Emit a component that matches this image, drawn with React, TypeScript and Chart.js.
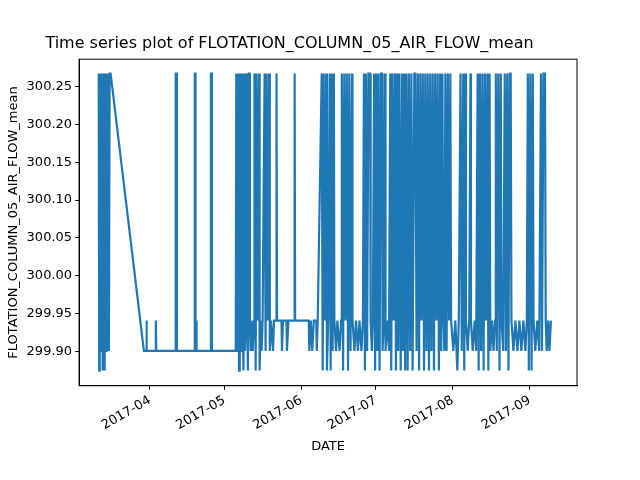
import React, { useEffect, useRef } from 'react';
import { Chart, registerables } from 'chart.js';

Chart.register(...registerables);

// x = days since 2017-03-01, y = mean air flow
const H = 300.267;
const M = 299.941;
const L = 299.901;
const B = 299.875;

const marchApril: [number, number][] = [
  [10.4, H], [10.6, B], [10.8, H], [11.0, M], [11.2, H], [11.5, L], [11.7, H], [12.0, B], [12.3, H],
  [12.6, M], [12.8, B], [13.1, H], [13.4, L], [13.6, H], [13.9, M], [14.2, H], [14.5, L], [14.8, H],
  [15.2, H], [28.6, L], [29.5, L], [29.6, M], [29.8, L], [33.3, L], [33.4, M], [33.6, L], [41.3, L],
  [41.4, H], [41.8, H], [41.9, L], [49.0, L], [49.1, H], [49.3, H], [49.4, L], [49.6, M], [49.8, L],
  [55.5, L], [55.6, H], [55.9, H], [56.0, L], [65.4, L],
];

const mayJune: [number, number][] = [
  [65.6, M], [65.8, H], [66.1, L], [66.4, M], [66.6, H], [66.9, B], [67.2, M], [67.5, H], [67.8, L],
  [68.1, H], [68.4, M], [68.7, B], [69.0, H], [69.3, L], [69.6, M], [69.9, H], [70.2, M], [70.5, B],
  [70.8, H], [71.1, H], [71.3, M], [71.6, L], [72.0, M], [72.4, L], [73.0, M], [73.1, H], [73.6, B],
  [74.0, H], [74.4, M], [75.0, H], [75.2, B], [75.6, M], [76.0, L], [76.4, M], [77.2, H], [77.6, L],
  [78.0, H], [78.4, M], [79.0, H], [79.3, L], [79.8, M], [80.6, L], [81.0, M], [81.8, M], [82.0, H],
  [82.2, M], [84.0, M], [84.2, L], [84.6, M], [86.0, M], [86.2, L], [86.8, M], [89.2, M], [89.3, H],
  [89.5, M], [95.0, M], [95.2, L], [95.8, M], [96.4, L], [97.0, M], [98.0, M], [98.2, L], [98.6, M],
  [100.2, H], [100.6, B], [101.0, H], [101.4, M], [102.0, H], [102.3, B], [102.8, M], [103.4, H],
  [103.8, B], [104.2, H], [104.6, L], [105.1, H], [105.3, M], [106.0, L], [106.5, M], [107.4, L],
  [108.0, M], [108.3, H], [108.8, B], [109.3, H], [109.8, M], [110.3, H], [110.8, B], [111.3, H],
  [111.8, L], [112.4, H], [112.6, M], [113.4, L], [114.0, M], [114.8, L], [115.4, M], [116.2, L],
  [116.8, M], [117.2, H], [117.6, B], [118.0, H], [118.5, L], [119.0, H], [119.7, H], [119.9, M],
  [120.4, L], [120.8, M], [121.3, H], [121.7, B], [122.1, H], [122.6, L], [123.0, H], [123.5, B],
  [124.0, H], [124.5, H], [124.7, L],
];

const julySeptember: [number, number][] = [
  [125.2, M], [125.7, H], [125.9, L], [126.6, M], [127.3, L], [127.8, H], [128.2, B], [128.7, H],
  [129.2, M], [129.7, H], [130.1, B], [130.6, H], [131.0, L], [131.5, H], [132.0, B], [132.6, H],
  [132.9, L], [133.4, H], [133.8, B], [134.3, H], [134.8, B], [135.3, H], [135.8, L], [136.3, H],
  [136.8, B], [137.5, H], [137.9, H], [138.4, L], [138.9, H], [139.4, B], [139.9, H], [140.4, M],
  [140.9, H], [141.4, B], [141.9, H], [142.4, L], [142.9, H], [143.4, B], [143.9, H], [144.4, L],
  [144.9, H], [145.4, B], [145.9, H], [146.4, M], [146.9, H], [147.4, B], [147.9, H], [148.3, L],
  [148.8, H], [149.2, M], [149.6, L], [150.0, H], [150.5, L], [151.0, H], [151.5, M], [152.0, H],
  [152.3, M], [153.2, L], [154.0, M], [154.8, B], [155.4, M], [156.1, H], [156.6, L], [157.2, H],
  [157.6, B], [158.1, H], [158.3, M], [159.0, L], [159.6, M], [160.1, H], [160.3, M], [161.0, L],
  [161.8, M], [162.4, L], [163.0, H], [163.4, B], [163.9, H], [164.4, L], [164.9, H], [165.4, B],
  [165.9, H], [166.4, M], [166.9, H], [167.3, B], [167.8, H], [168.1, L], [168.8, M], [169.4, L],
  [170.0, M], [170.3, H], [170.7, L], [171.3, H], [171.8, B], [172.3, H], [172.6, M], [173.3, L],
  [173.9, H], [174.4, L], [174.9, H], [175.4, B], [175.9, H], [176.3, H], [176.6, M], [177.4, L],
  [178.2, M], [179.0, L], [179.8, M], [180.6, L], [181.4, M], [182.2, L], [182.8, M], [183.2, H],
  [183.6, B], [184.2, H], [184.7, B], [185.2, H], [185.5, M], [186.2, L], [187.0, M], [187.8, L],
  [188.5, H], [188.9, L], [189.5, H], [190.1, H], [190.4, M], [190.8, L], [191.4, M], [191.9, L],
  [192.5, M],
];

const monthTicks = [31, 61, 92, 122, 153, 184];
const monthLabels = ['2017-04', '2017-05', '2017-06', '2017-07', '2017-08', '2017-09'];
const yTicks = [299.9, 299.95, 300.0, 300.05, 300.1, 300.15, 300.2, 300.25];

const frame = {
  id: 'frame',
  afterDraw(chart: Chart) {
    const { ctx, chartArea } = chart;
    ctx.save();
    ctx.strokeStyle = '#000';
    ctx.lineWidth = 1;
    ctx.strokeRect(chartArea.left, chartArea.top, chartArea.right - chartArea.left, chartArea.bottom - chartArea.top);
    ctx.restore();
  },
};

const App: React.FC = () => {
  const chartRef = useRef<HTMLCanvasElement>(null);
  const chartInstance = useRef<Chart | null>(null);

  useEffect(() => {
    document.body.style.margin = '0';
    if (!chartRef.current) return;
    if (chartInstance.current) chartInstance.current.destroy();
    const ctx = chartRef.current.getContext('2d');
    if (!ctx) return;
    const points = [...marchApril, ...mayJune, ...julySeptember].map(([x, y]) => ({ x, y }));
    const font = { family: 'DejaVu Sans', size: 13 };
    chartInstance.current = new Chart(ctx, {
      type: 'line',
      data: {
        datasets: [
          {
            data: points,
            borderColor: '#1f77b4',
            borderWidth: 2.2,
            pointRadius: 0,
            tension: 0,
          },
        ],
      },
      options: {
        animation: false,
        responsive: false,
        layout: { padding: { top: 8, right: 63, bottom: 22, left: 2 } },
        plugins: {
          legend: { display: false },
          tooltip: { enabled: false },
          title: {
            display: true,
            text: 'Time series plot of FLOTATION_COLUMN_05_AIR_FLOW_mean',
            color: '#000',
            font: { family: 'DejaVu Sans', size: 16, weight: 'normal' },
            padding: { top: 26, bottom: 6 },
          },
        },
        scales: {
          x: {
            type: 'linear',
            min: 2.5,
            max: 203,
            afterBuildTicks: (axis) => {
              axis.ticks = monthTicks.map((value) => ({ value }));
            },
            ticks: {
              color: '#000',
              font,
              minRotation: 30,
              maxRotation: 30,
              autoSkip: false,
              callback: (v) => monthLabels[monthTicks.indexOf(Number(v))] ?? '',
            },
            grid: { drawOnChartArea: false, drawTicks: true, tickLength: 4, color: '#000' },
            border: { color: '#000' },
            title: { display: true, text: 'DATE', color: '#000', font, padding: { top: 2 } },
          },
          y: {
            min: 299.855,
            max: 300.286,
            afterBuildTicks: (axis) => {
              axis.ticks = yTicks.map((value) => ({ value }));
            },
            ticks: { color: '#000', font, callback: (v) => Number(v).toFixed(2) },
            grid: { drawOnChartArea: false, drawTicks: true, tickLength: 4, color: '#000' },
            border: { color: '#000' },
            title: {
              display: true,
              text: 'FLOTATION_COLUMN_05_AIR_FLOW_mean',
              color: '#000',
              font,
              padding: { bottom: 2 },
            },
          },
        },
      },
      plugins: [frame],
    });
    return () => {
      if (chartInstance.current) {
        chartInstance.current.destroy();
        chartInstance.current = null;
      }
    };
  }, []);

  return <canvas ref={chartRef} width={640} height={480} />;
};

export default App;
